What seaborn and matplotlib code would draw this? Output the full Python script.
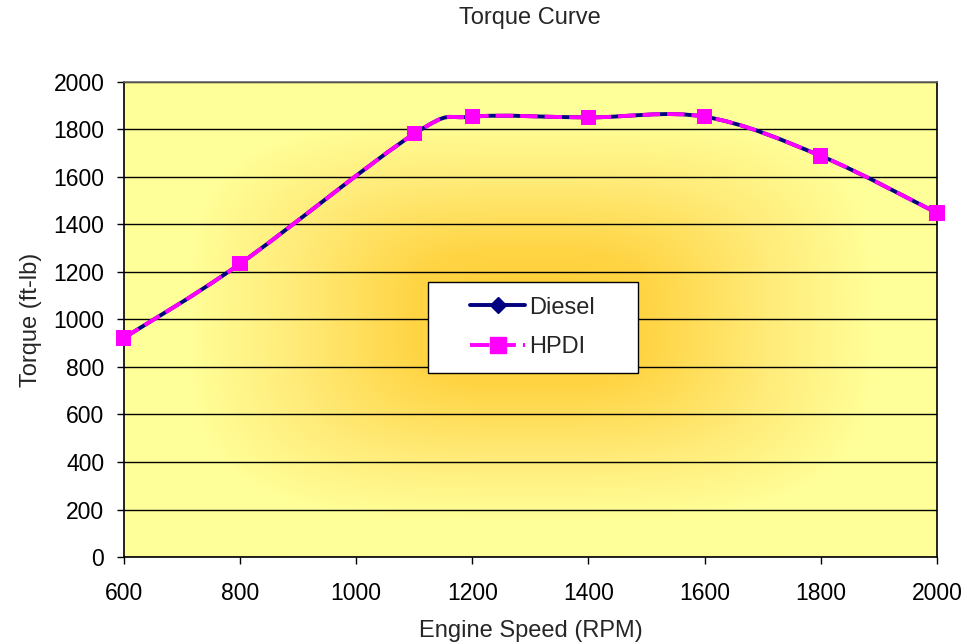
import numpy as np
import pandas as pd
import seaborn as sns
import matplotlib.pyplot as plt
from matplotlib.path import Path
from matplotlib.patches import PathPatch, Rectangle
from matplotlib.lines import Line2D
from matplotlib.colors import LinearSegmentedColormap

# data
rpm = [600, 800, 1100, 1200, 1400, 1600, 1800, 2000]
diesel = [922, 1234, 1781, 1853, 1850, 1853, 1688, 1448]
hpdi = [922, 1234, 1781, 1853, 1850, 1853, 1688, 1448]
yticks = [0, 200, 400, 600, 800, 1000, 1200, 1400, 1600, 1800, 2000]
xticks = [600, 800, 1000, 1200, 1400, 1600, 1800, 2000]

df = pd.DataFrame({"rpm": rpm, "Diesel": diesel, "HPDI": hpdi})

sns.set_theme(style="white")
plt.rcParams["font.family"] = ["Liberation Sans", "DejaVu Sans"]

fig = plt.figure(figsize=(9.67, 6.44), dpi=100)
ax = fig.add_axes([0.128, 0.135, 0.841, 0.738])

# gradient background (pale yellow at the edges, gold in the middle)
gx, gy = np.meshgrid(np.linspace(-1, 1, 400), np.linspace(-1, 1, 400))
r = (np.abs(gx) ** 3.5 + np.abs(gy) ** 3.5) ** (1 / 3.5)
r = np.clip(r, 0, 1)
cmap = LinearSegmentedColormap.from_list(
    "bg", [(0, "#FFCC33"), (0.28, "#FFD443"), (0.58, "#FFEB78"), (0.85, "#FFFF99"), (1, "#FFFF99")])
ax.imshow(r, cmap=cmap, extent=[600, 2000, 0, 2000], aspect="auto", zorder=0,
          vmin=0, vmax=1, interpolation="bilinear")


def smooth_path(xs, ys):
    # excel style smoothed line: catmull-rom as cubic bezier segments
    pts = np.column_stack([xs, ys]).astype(float)
    ext = np.vstack([pts[0], pts, pts[-1]])
    verts = [pts[0]]
    codes = [Path.MOVETO]
    for i in range(len(pts) - 1):
        p0, p1, p2, p3 = ext[i], ext[i + 1], ext[i + 2], ext[i + 3]
        c1 = p1 + (p2 - p0) / 6
        c2 = p2 - (p3 - p1) / 6
        verts += [c1, c2, p2]
        codes += [Path.CURVE4] * 3
    return Path(verts, codes)


ax.add_patch(PathPatch(smooth_path(df["rpm"], df["Diesel"]), fill=False,
                       edgecolor="#000080", lw=2.8, zorder=3, capstyle="butt"))
ax.add_patch(PathPatch(smooth_path(df["rpm"], df["HPDI"]), fill=False,
                       edgecolor="#FF00FF", lw=2.8, zorder=4,
                       linestyle=(0, (4.5, 1.8)), capstyle="butt"))

sns.scatterplot(data=df, x="rpm", y="Diesel", marker="D", s=60, color="#000080",
                edgecolor="none", ax=ax, zorder=5)
sns.scatterplot(data=df, x="rpm", y="HPDI", marker="s", s=120, color="#FF00FF",
                edgecolor="none", ax=ax, zorder=6, clip_on=False)

ax.set_xlim(600, 2000)
ax.set_ylim(0, 2000)
ax.set_xticks(xticks)
ax.set_yticks(yticks)
ax.yaxis.grid(True, color="black", lw=1)
for gl in ax.get_ygridlines():
    gl.set_zorder(1)
ax.tick_params(axis="both", direction="out", length=5, width=1, color="black",
               labelsize=16.5, colors="black", bottom=True, left=True)
ax.tick_params(axis="x", pad=13)
ax.tick_params(axis="y", pad=9)
for side in ["left", "bottom", "right"]:
    ax.spines[side].set_color("black")
    ax.spines[side].set_linewidth(1.2)
ax.spines["top"].set_color("#666666")
ax.spines["top"].set_linewidth(1.2)

ax.set_xlabel("Engine Speed (RPM)", fontsize=17, labelpad=11)
ax.set_ylabel("Torque (ft-lb)", fontsize=17, labelpad=8)
fig.text(0.548, 0.972, "Torque Curve", ha="center", va="center", fontsize=17)

# legend box
ax.add_patch(Rectangle((0.374, 0.387), 0.258, 0.192, transform=ax.transAxes,
                       facecolor="white", edgecolor="black", lw=1, zorder=9))
handles = [
    Line2D([], [], color="#000080", lw=2.8, marker="D", markersize=8.5),
    Line2D([], [], color="#FF00FF", lw=2.8, marker="s", markersize=11,
           linestyle=(0, (5, 1.8))),
]
leg = ax.legend(handles, ["Diesel", "HPDI"], loc="center",
                bbox_to_anchor=(0.503, 0.483), fontsize=17, frameon=False,
                handlelength=2.3, labelspacing=0.75, borderpad=0.3,
                handletextpad=0.2, borderaxespad=0)
leg.set_zorder(10)

fig.savefig("out.png", dpi=100)
